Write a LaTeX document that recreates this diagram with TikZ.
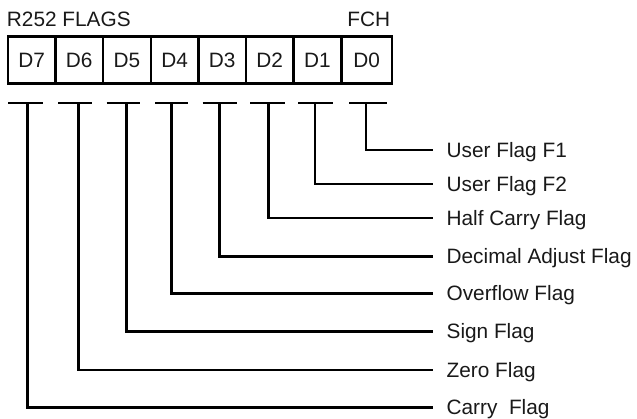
\documentclass[tikz,border=0pt]{standalone}
\usepackage{fontspec}
\setmainfont{Liberation Sans}
\begin{document}
\begin{tikzpicture}[x=1pt,y=-1pt,
  line width=2.9pt,
  every node/.style={font=\fontsize{20.8}{24}\selectfont, text=black!90},
  cell/.style={draw, rectangle, minimum height=47pt, inner sep=0pt, text height=14.9pt, text depth=0pt},
  flaglabel/.style={anchor=west, inner xsep=12.5pt, inner ysep=0pt, text height=14.9pt, text depth=0pt},
  wire/.style={line width=2.9pt}]
\useasboundingbox (0,0) rectangle (637,419);
% register cells
\foreach \n/\l/\r in {7/8/55.5, 6/55.5/103, 5/103/151, 4/151/198.5, 3/198.5/246, 2/246/293.5, 1/293.5/341.5, 0/341.5/392}{
  \pgfmathsetmacro{\cx}{(\l+\r)/2}
  \pgfmathsetmacro{\w}{\r-\l}
  \node[cell, minimum width=\w pt] (d\n) at (\cx,60) {D\n};
}
% titles
\node[anchor=base west, inner sep=0pt] (title) at (5.5,27) {R252 FLAGS};
\node[anchor=base east, inner sep=0pt] (addr) at (391.6,27) {FCH};
% bars under each bit
\foreach \n/\a/\b/\s in {7/8.3/43.3/27.3, 6/58.3/91.7/78.3, 5/106.7/140/126.7, 4/155/188.3/171.7, 3/202.7/236.7/219.3, 2/250/285/268.3, 1/298.3/333.3/315, 0/349.3/386.7/366}{
  \coordinate (ba\n) at (\a,103);
  \coordinate (bb\n) at (\b,103);
  \coordinate (s\n) at (\s,103);
  \draw[wire] (ba\n) -- (bb\n);
}
% labels
\node[flaglabel] (l0) at (432.7,150) {User Flag F1};
\node[flaglabel] (l1) at (432.7,184) {User Flag F2};
\node[flaglabel] (l2) at (432.7,218) {Half Carry Flag};
\node[flaglabel] (l3) at (432.7,256.5) {Decimal Adjust Flag};
\node[flaglabel] (l4) at (432.7,293.5) {Overflow Flag};
\node[flaglabel] (l5) at (432.7,331.5) {Sign Flag};
\node[flaglabel] (l6) at (432.7,370) {Zero Flag};
\node[flaglabel] (l7) at (432.7,407.3) {Carry\ \ Flag};
% connectors
\foreach \n in {0,...,7}{
  \draw[wire] (s\n) |- (l\n.west);
}
\end{tikzpicture}
\end{document}
